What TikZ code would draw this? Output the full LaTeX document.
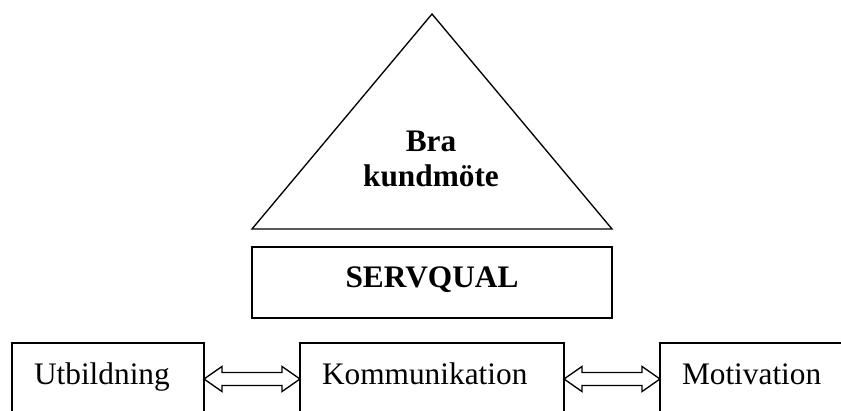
\documentclass[tikz,border=0pt]{standalone}
\usepackage{fontspec}
\setmainfont{Liberation Serif}
\usetikzlibrary{positioning,calc}
\tikzset{dbl arrow/.style={line width=1pt,
  to path={let \p1=(\tikztostart), \p2=(\tikztotarget) in
  (\x1,\y1) -- (\x1+13.5pt,\y1+9.4pt) -- (\x1+13.5pt,\y1+4.9pt)
  -- (\x2-13.5pt,\y2+4.9pt) -- (\x2-13.5pt,\y2+9.4pt) -- (\x2,\y2)
  -- (\x2-13.5pt,\y2-9.4pt) -- (\x2-13.5pt,\y2-4.9pt)
  -- (\x1+13.5pt,\y1-4.9pt) -- (\x1+13.5pt,\y1-9.4pt) -- cycle}}}

\begin{document}
\begin{tikzpicture}[x=0.75pt,y=-0.75pt,
  txt/.style={font=\fontsize{23.5pt}{26.25pt}\selectfont},
  box/.style={draw,line width=1.5pt,outer sep=0pt,txt,align=left,
    inner xsep=16.5pt,inner ysep=3pt,minimum height=60pt,
    text height=16pt,text depth=14.5pt}]
\useasboundingbox (0,0) rectangle (841,410);
\clip (0,0) rectangle (841,410);

% pyramid
\coordinate (apex) at (432,14);
\coordinate (bl) at (252,229);
\coordinate (br) at (612,229);
\draw[line width=1pt,line join=miter] (apex) -- (bl) -- (br) -- cycle;
\node[txt,align=center,font=\fontsize{23.5pt}{26.25pt}\selectfont\bfseries] (BK) at (431,159) {Bra\\kundmöte};

\node[draw,line width=1.5pt,outer sep=0pt,txt,font=\fontsize{23.5pt}{26.25pt}\selectfont\bfseries,
  minimum width=270pt,minimum height=53.25pt,text height=16pt,text depth=9.25pt] (SQ) at (432,282.5) {SERVQUAL};

% bottom row
\node[box,anchor=north west,text width=111pt] (UT) at (12,343) {Utbildning};
\node[box,right=72pt of UT,text width=165pt] (KO) {Kommunikation};
\node[box,right=72pt of KO,text width=117pt] (MO) {Motivation};

\draw ([yshift=3pt]UT.east) edge[dbl arrow] ([yshift=3pt]KO.west)
([yshift=3pt]KO.east) edge[dbl arrow] ([yshift=3pt]MO.west)
;
\end{tikzpicture}
\end{document}
